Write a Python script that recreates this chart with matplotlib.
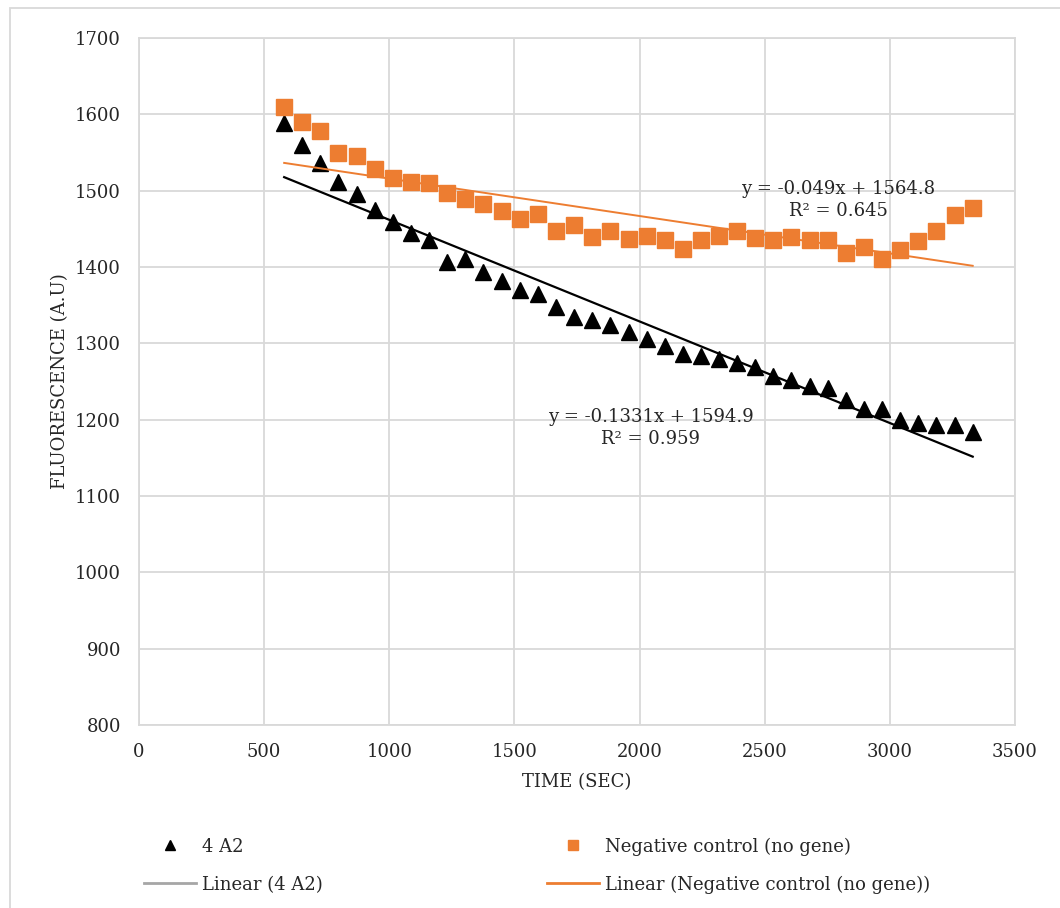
import matplotlib
matplotlib.use("Agg")
import matplotlib.pyplot as plt
from matplotlib.lines import Line2D
from matplotlib.patches import Rectangle
import numpy as np

plt.rcParams["font.family"] = ["DejaVu Serif"]

# Sampling times (s)
time_sec = [580, 652, 725, 797, 870, 942, 1014, 1087, 1159, 1232,
            1304, 1376, 1449, 1521, 1594, 1666, 1738, 1811, 1883, 1956,
            2028, 2100, 2173, 2245, 2318, 2390, 2462, 2535, 2607, 2680,
            2752, 2824, 2897, 2969, 3042, 3114, 3186, 3259, 3331]

# Fluorescence readings (a.u.)
sample_4a2 = [1588, 1560, 1536, 1512, 1496, 1475, 1459, 1444, 1435, 1406,
              1410, 1394, 1382, 1370, 1364, 1348, 1335, 1330, 1324, 1315,
              1306, 1296, 1286, 1283, 1279, 1274, 1269, 1257, 1252, 1244,
              1241, 1226, 1214, 1214, 1199, 1195, 1193, 1193, 1184]
neg_control = [1610, 1590, 1578, 1549, 1545, 1528, 1516, 1512, 1510, 1497,
               1489, 1483, 1473, 1463, 1470, 1447, 1455, 1439, 1447, 1437,
               1440, 1436, 1423, 1435, 1440, 1447, 1438, 1435, 1439, 1436,
               1435, 1418, 1426, 1411, 1422, 1434, 1447, 1468, 1477]

# Linear trendline coefficients (slope, intercept, R^2)
fit_4a2 = [-0.1331, 1594.9, 0.959]
fit_neg = [-0.049, 1564.8, 0.645]

series_labels = ["4 A2", "Negative control (no gene)"]
x_ticks = [0, 500, 1000, 1500, 2000, 2500, 3000, 3500]
y_ticks = [800, 900, 1000, 1100, 1200, 1300, 1400, 1500, 1600, 1700]

ORANGE = "#ED7D31"
GRID = "#d9d9d9"
TEXT = "#262626"
FS = 13
W, H = 1060, 908

fig = plt.figure(figsize=(W / 100, H / 100), dpi=100)
fig.patch.set_facecolor("white")


def fx(px):
    return px / W


def fy(py):
    return 1 - py / H


ax = fig.add_axes([fx(139), fy(725), fx(1015) - fx(139), fy(38) - fy(725)])

x = np.array(time_sec, dtype=float)
ax.plot(x, sample_4a2, linestyle="none", marker="^", markersize=11,
        color="black", zorder=3)
ax.plot(x, neg_control, linestyle="none", marker="s", markersize=12,
        color=ORANGE, zorder=3)

xs = np.array([x[0], x[-1]])
ax.plot(xs, fit_4a2[0] * xs + fit_4a2[1], color="black", lw=1.6, zorder=4)
ax.plot(xs, fit_neg[0] * xs + fit_neg[1], color=ORANGE, lw=1.4, zorder=4)

ax.text(2793, 1488,
        f"y = {fit_neg[0]}x + {fit_neg[1]}\nR² = {fit_neg[2]}",
        ha="center", va="center", fontsize=FS, color=TEXT,
        linespacing=1.25, zorder=5)
ax.text(2045, 1189,
        f"y = {fit_4a2[0]}x + {fit_4a2[1]}\nR² = {fit_4a2[2]}",
        ha="center", va="center", fontsize=FS, color=TEXT,
        linespacing=1.25, zorder=5)

ax.set_xlim(0, 3500)
ax.set_ylim(800, 1700)
ax.set_xticks(x_ticks)
ax.set_yticks(y_ticks)
ax.tick_params(length=0, labelsize=FS, labelcolor=TEXT)
ax.tick_params(axis="y", pad=13)
ax.tick_params(axis="x", pad=13)
ax.grid(True, color=GRID, lw=1.3)
ax.set_axisbelow(True)
for s in ax.spines.values():
    s.set_color(GRID)
    s.set_linewidth(1.3)

ax.set_xlabel("TIME (SEC)", fontsize=FS, color=TEXT, labelpad=9)
ax.set_ylabel("FLUORESCENCE (A.U)", fontsize=FS, color=TEXT, labelpad=4)

# Chart area border
fig.add_artist(Rectangle((fx(10), fy(H + 20)), fx(W + 20), fy(8) - fy(H + 20),
                         transform=fig.transFigure, fill=False,
                         edgecolor=GRID, lw=1.3))

# Legend, two columns
rows = [845, 883]
cols = [(144, 196, 202), (547, 599, 605)]
entries = [
    [(dict(marker="^", color="black", markersize=7, linestyle="none"), series_labels[0]),
     (dict(color="#a6a6a6", lw=2), f"Linear ({series_labels[0]})")],
    [(dict(marker="s", color=ORANGE, markersize=7, linestyle="none"), series_labels[1]),
     (dict(color=ORANGE, lw=2), f"Linear ({series_labels[1]})")],
]
for (x0, x1, tx), col_entries in zip(cols, entries):
    for ry, (style, label) in zip(rows, col_entries):
        if style.get("linestyle") == "none":
            fig.add_artist(Line2D([fx((x0 + x1) / 2)], [fy(ry)],
                                  transform=fig.transFigure, **style))
        else:
            fig.add_artist(Line2D([fx(x0), fx(x1)], [fy(ry), fy(ry)],
                                  transform=fig.transFigure, **style))
        fig.text(fx(tx), fy(ry + 2), label, ha="left", va="center",
                 fontsize=FS, color=TEXT)

fig.savefig("out.png", dpi=100, facecolor="white")
